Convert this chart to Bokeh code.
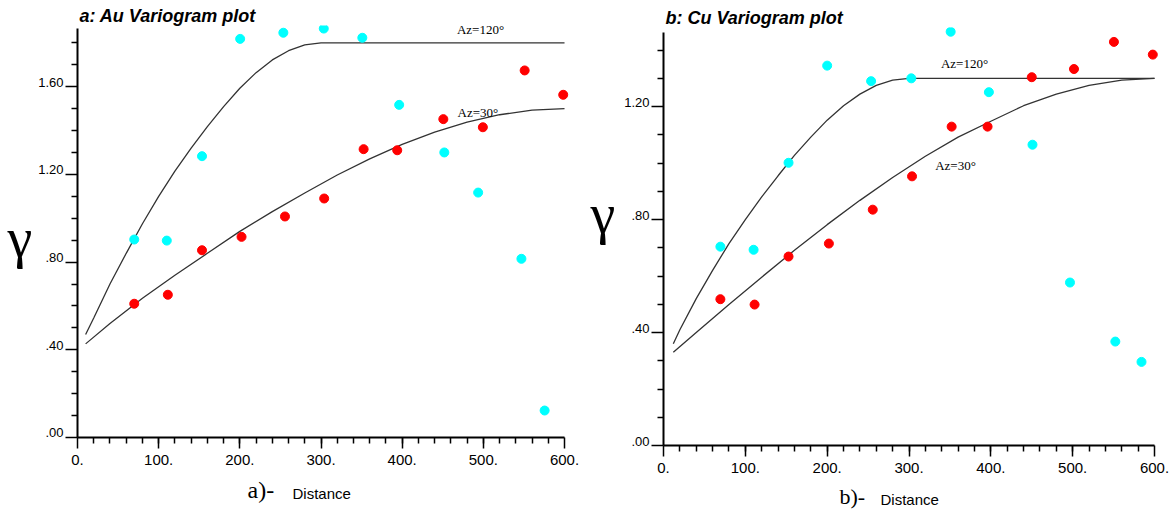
from bokeh.plotting import figure
from bokeh.models import Range1d, FixedTicker, Label, LinearAxis
from bokeh.layouts import row, column
from bokeh.embed import file_html
from bokeh.resources import INLINE

# ---------------- data ----------------
# Au variogram
au_lag_az120 = [69.9, 110.0, 153.4, 200.4, 253.6, 303.4, 350.9, 396.3, 451.9, 493.6, 546.9, 575.5]
au_gam_az120 = [0.903, 0.898, 1.283, 1.818, 1.846, 1.865, 1.823, 1.517, 1.300, 1.117, 0.815, 0.123]
au_lag_az30 = [69.9, 111.3, 153.4, 202.1, 255.6, 303.9, 352.5, 393.9, 450.7, 499.4, 550.9, 598.4]
au_gam_az30 = [0.610, 0.651, 0.854, 0.915, 1.008, 1.090, 1.315, 1.310, 1.452, 1.415, 1.674, 1.563]
au_model120_h = [10, 20, 40, 60, 80, 100, 120, 140, 160, 180, 200, 220, 240, 260, 280, 300, 600]
au_model120_g = [0.47, 0.545, 0.70, 0.84, 0.975, 1.10, 1.215, 1.32, 1.418, 1.509, 1.593, 1.664, 1.722, 1.764, 1.791, 1.80, 1.80]
au_model30_h = [10, 40, 80, 120, 160, 200, 240, 280, 320, 360, 400, 440, 480, 520, 560, 600]
au_model30_g = [0.427, 0.52, 0.635, 0.74, 0.84, 0.94, 1.03, 1.115, 1.197, 1.271, 1.337, 1.393, 1.438, 1.472, 1.493, 1.50]

# Cu variogram
cu_lag_az120 = [69.5, 110.1, 152.8, 200.0, 253.7, 302.8, 350.9, 397.6, 450.9, 496.7, 552.1, 584.1]
cu_gam_az120 = [0.704, 0.693, 1.001, 1.345, 1.290, 1.300, 1.465, 1.251, 1.065, 0.577, 0.368, 0.296]
cu_lag_az30 = [69.5, 111.3, 152.8, 202.1, 255.7, 303.7, 352.1, 396.0, 450.0, 501.6, 550.4, 597.9]
cu_gam_az30 = [0.518, 0.499, 0.669, 0.715, 0.835, 0.953, 1.129, 1.129, 1.304, 1.333, 1.429, 1.384]
cu_model120_h = [12, 20, 40, 60, 80, 100, 120, 140, 160, 180, 200, 220, 240, 260, 280, 300, 600]
cu_model120_g = [0.36, 0.41, 0.52, 0.62, 0.715, 0.80, 0.88, 0.955, 1.027, 1.092, 1.152, 1.203, 1.244, 1.275, 1.294, 1.30, 1.30]
cu_model30_h = [12, 40, 80, 120, 160, 200, 240, 280, 320, 360, 400, 440, 480, 520, 560, 600]
cu_model30_g = [0.33, 0.40, 0.499, 0.596, 0.691, 0.782, 0.868, 0.949, 1.024, 1.092, 1.148, 1.203, 1.244, 1.275, 1.294, 1.30]

x_ticks = [0, 100, 200, 300, 400, 500, 600]
x_tick_labels = ["0.", "100.", "200.", "300.", "400.", "500.", "600."]
x_minor = [v for v in range(20, 600, 20)]
au_y_ticks = [0, 0.4, 0.8, 1.2, 1.6]
au_y_labels = [".00", ".40", ".80", "1.20", "1.60"]
au_y_minor = [0.1, 0.2, 0.3, 0.5, 0.6, 0.7, 0.9, 1.0, 1.1, 1.3, 1.4, 1.5, 1.7, 1.8]
cu_y_ticks = [0, 0.4, 0.8, 1.2]
cu_y_labels = [".00", ".40", ".80", "1.20"]
cu_y_minor = [0.1, 0.2, 0.3, 0.5, 0.6, 0.7, 0.9, 1.0, 1.1, 1.3, 1.4]

CYAN = "#00FFFF"
RED = "#FF0000"
CURVE = "#333333"
SANS = "Liberation Sans"
SERIF = "Liberation Serif"
GW = 35  # width of the strip that holds the gamma symbol


def make_panel(title, width, height, bl, br, bt, bb, xend, yend, ybound, lab_shift,
               yticks, ylabels, yminor, m120h, m120g, m30h, m30g, l120, g120, l30, g30):
    p = figure(width=width, height=height, output_backend="svg", toolbar_location=None,
               x_range=Range1d(0, xend), y_range=Range1d(0, yend),
               min_border_left=bl, min_border_right=br, min_border_top=bt, min_border_bottom=bb)
    p.outline_line_color = None
    p.xgrid.visible = False
    p.ygrid.visible = False
    p.background_fill_color = "white"
    p.border_fill_color = "white"

    p.title.text = title
    p.title.align = "left"
    p.title.offset = 2
    p.title.standoff = 0
    p.title.text_font = SANS
    p.title.text_font_size = "18px"
    p.title.text_font_style = "bold italic"
    p.title.text_color = "black"

    xa = p.xaxis[0]
    xa.ticker = FixedTicker(ticks=x_ticks, minor_ticks=x_minor)
    xa.major_label_overrides = {t: s for t, s in zip(x_ticks, x_tick_labels)}
    xa.bounds = (0, 600)
    xa.axis_line_width = 2
    xa.axis_line_color = "black"
    xa.major_tick_line_width = 1.5
    xa.minor_tick_line_width = 1.5
    xa.major_tick_line_color = "black"
    xa.minor_tick_line_color = "black"
    xa.major_tick_in = 0
    xa.major_tick_out = 11
    xa.minor_tick_in = 0
    xa.minor_tick_out = 6
    xa.major_label_standoff = 6
    xa.major_label_text_font = SANS
    xa.major_label_text_font_size = "15px"
    xa.major_label_text_color = "black"

    # main y axis: line and ticks only (its own labels switched off)
    ya = p.yaxis[0]
    ya.ticker = FixedTicker(ticks=yticks, minor_ticks=yminor)
    ya.bounds = (0, ybound)
    ya.axis_line_width = 2
    ya.axis_line_color = "black"
    ya.major_tick_line_width = 1.5
    ya.minor_tick_line_width = 1.5
    ya.major_tick_line_color = "black"
    ya.minor_tick_line_color = "black"
    ya.major_tick_in = 0
    ya.major_tick_out = 12
    ya.minor_tick_in = 0
    ya.minor_tick_out = 6
    ya.major_label_standoff = 0
    ya.major_label_text_font_size = "0px"
    ya.major_label_text_color = None

    # tick labels on a companion axis, sitting just above each tick as in the original
    p.extra_y_ranges = {"lab": Range1d(-lab_shift, yend - lab_shift)}
    la = LinearAxis(y_range_name="lab", ticker=FixedTicker(ticks=yticks),
                    major_label_overrides={t: s for t, s in zip(yticks, ylabels)},
                    axis_line_color=None, major_tick_line_color=None, minor_tick_line_color=None,
                    major_tick_in=0, major_tick_out=0, minor_tick_in=0, minor_tick_out=0,
                    major_label_standoff=2, major_label_text_font=SANS,
                    major_label_text_font_size="13px", major_label_text_color="black")
    p.add_layout(la, "left")

    p.line(m120h, m120g, line_color=CURVE, line_width=1.3)
    p.line(m30h, m30g, line_color=CURVE, line_width=1.3)
    p.scatter(l120, g120, size=9, fill_color=CYAN, line_color=CYAN)
    p.scatter(l30, g30, size=9, fill_color=RED, line_color=RED)
    return p


def lab(p, x, y, text, font, size, style="normal"):
    p.add_layout(Label(x=x, y=y, text=text, text_font=font, text_font_size=size,
                       text_font_style=style, text_color="black",
                       text_baseline="middle", text_align="left"))


def blank(width, height, x0, y_top, y_bottom):
    f = figure(width=width, height=height, output_backend="svg", toolbar_location=None,
               x_range=Range1d(x0, x0 + width), y_range=Range1d(y_bottom, y_top),
               x_axis_location=None, y_axis_location=None,
               min_border_left=0, min_border_right=0, min_border_top=0, min_border_bottom=0)
    f.outline_line_color = None
    f.grid.visible = False
    f.background_fill_color = "white"
    f.border_fill_color = "white"
    return f


# ---- left column (Au): plot frame x 75..574, y 25..437
HA = 472
pa = make_panel("a: Au Variogram plot", 586 - GW, HA, 75 - GW, 12, 25, HA - 437, 612.3, 1.879, 1.865,
                4.5 / 219.25, au_y_ticks, au_y_labels, au_y_minor,
                au_model120_h, au_model120_g, au_model30_h, au_model30_g,
                au_lag_az120, au_gam_az120, au_lag_az30, au_gam_az30)
lab(pa, 467.5, 1.861, "Az=120°", SERIF, "13px")
lab(pa, 468.3, 1.484, "Az=30°", SERIF, "13px")
ga = blank(GW, HA, 0, 0, HA)
lab(ga, 7, 243, "γ", SERIF, "56px")
fa = blank(586, 512 - HA, 0, HA, 512)
lab(fa, 247, 489, "a)-", SERIF, "24px")
lab(fa, 292, 492.5, "Distance", SANS, "15px")

# ---- right column (Cu): plot frame x 662..1164, y 27..445
HB = 480
pb = make_panel("b: Cu Variogram plot", 586 - GW, HB, 662 - 586 - GW, 8, 27, HB - 445, 612.2, 1.480, 1.463,
                4.5 / 282.5, cu_y_ticks, cu_y_labels, cu_y_minor,
                cu_model120_h, cu_model120_g, cu_model30_h, cu_model30_g,
                cu_lag_az120, cu_gam_az120, cu_lag_az30, cu_gam_az30)
lab(pb, 339.0, 1.352, "Az=120°", SERIF, "13px")
lab(pb, 332.0, 0.991, "Az=30°", SERIF, "13px")
gb = blank(GW, HB, 586, 0, HB)
lab(gb, 590, 214, "γ", SERIF, "56px")
fb = blank(586, 512 - HB, 586, HB, 512)
lab(fb, 839, 496, "b)-", SERIF, "22px")
lab(fb, 880, 498.5, "Distance", SANS, "15px")

layout = row(column(row(ga, pa), fa), column(row(gb, pb), fb))
open("out.html", "w").write(file_html(layout, INLINE))
